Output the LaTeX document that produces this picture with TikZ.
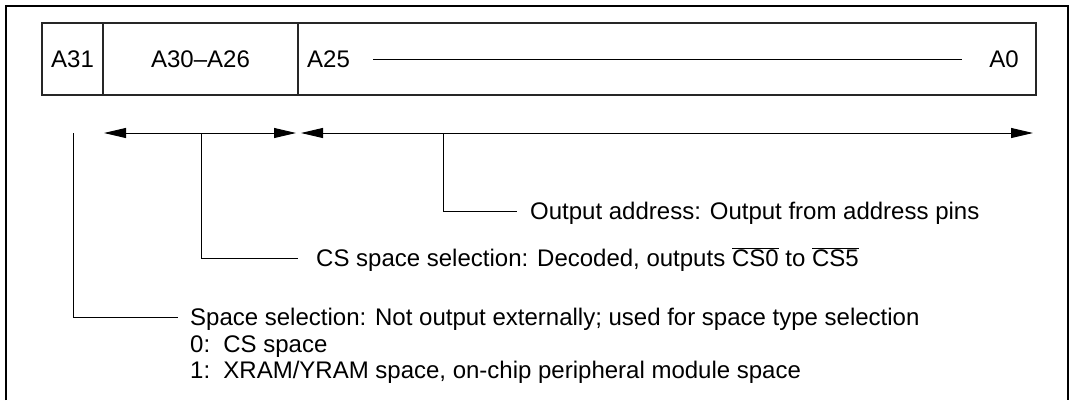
\documentclass[tikz,border=0pt]{standalone}
\usepackage{fontspec}
\setmainfont{Liberation Sans}
\usetikzlibrary{arrows.meta,positioning}

\begin{document}
\begin{tikzpicture}[
x=1pt, y=-1pt,
font=\fontsize{24}{29}\selectfont,
field/.style={draw=black!85, line width=1.4pt, minimum height=72pt, inner sep=0pt, outer sep=0pt},
lbl/.style={inner sep=0pt, anchor=west, text height=17pt, text depth=1pt},
lead/.style={line width=0.9pt},
arr/.style={{Triangle[length=22pt,width=10pt]}-{Triangle[length=22pt,width=10pt]}, line width=0.9pt}
]
\useasboundingbox (0,0) rectangle (1076,400);
\draw[line width=2.4pt] (6,400) -- (6,6) -- (1068,6) -- (1068,400);

% address bit fields
\node[field, minimum width=61pt, anchor=north west] (b31) at (42,23) {A31};
\node[field, minimum width=195pt, right=0pt of b31] (b30) {A30--A26};
\node[field, minimum width=738pt, right=0pt of b30] (b25) {};
\node[lbl] (a25) at (307,59) {A25};
\node[lbl, anchor=east] (a0) at (1019,59) {A0};
\draw[lead, shorten <=23pt, shorten >=27pt] (a25) -- (a0);

% ranges
\coordinate (l1) at (104,133);
\coordinate (r1) at (296,133);
\coordinate (l2) at (301,133);
\coordinate (r2) at (1033,133);
\draw[arr] (l1) -- (r1);
\draw[arr] (l2) -- (r2);

% descriptions
\coordinate (p31) at (73,133);
\coordinate (p30) at (201,133);
\coordinate (p25) at (443,133);
\node[lbl] (out) at (530,211) {Output address: Output from address pins};
\node[lbl] (cs) at (316,258) {CS space selection: Decoded, outputs $\overline{\hbox{CS0}}$ to $\overline{\hbox{CS5}}$};
\node[lbl] (spc) at (190,317) {Space selection: Not output externally; used for space type selection};
\node[lbl] (sp0) at (190,344) {0:\hspace{0.55em}CS space};
\node[lbl] (sp1) at (190,370) {1:\hspace{0.55em}XRAM/YRAM space, on-chip peripheral module space};
\draw[lead, shorten >=13pt] (p25) |- (out.west);
\draw[lead, shorten >=18pt] (p30) |- (cs.west);
\draw[lead, shorten >=12pt] (p31) |- (spc.west);
\end{tikzpicture}
\end{document}
